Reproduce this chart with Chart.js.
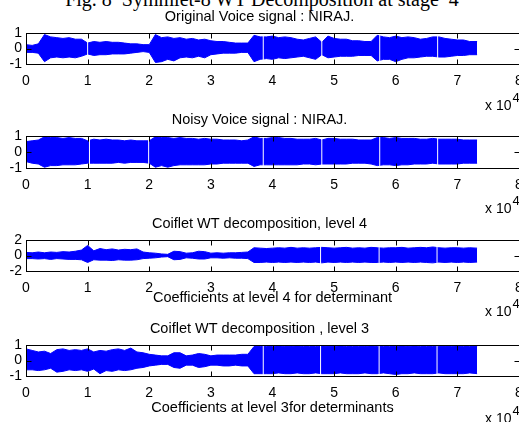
<!DOCTYPE html>
<html>
<head>
<meta charset="utf-8">
<title>Symmlet-8 WT Decomposition at stage 4</title>
<script src="https://cdn.jsdelivr.net/npm/chart.js@4.4.1/dist/chart.umd.min.js"></script>
<style>
  html, body { margin: 0; padding: 0; overflow: hidden; background: #fff; }
  body { position: relative; width: 519px; height: 422px; }
  canvas { position: absolute; left: 0; }
  .fig-title {
    position: absolute; left: 0; width: 524px; top: -11px; text-align: center;
    font: 20px/20px "Liberation Serif", "Times New Roman", serif; white-space: nowrap;
  }
  .exp {
    position: absolute; left: 485px; white-space: nowrap; color: #000;
    font: 14px/15px "Liberation Sans", Arial, sans-serif;
  }
  .exp span { position: relative; top: -8px; font-size: 13px; margin-left: 1px; }
</style>
</head>
<body>
<div class="fig-title">Fig. 8&nbsp; Symmlet-8 WT Decomposition at stage&nbsp; 4</div>

<canvas id="plotOrig" width="545" height="88" style="top:0px"></canvas>
<canvas id="plotNoisy" width="545" height="89" style="top:103px"></canvas>
<canvas id="plotL4" width="545" height="104" style="top:207px"></canvas>
<canvas id="plotL3" width="545" height="106" style="top:312px"></canvas>

<div class="exp" style="top:98px">x 10<span>4</span></div>
<div class="exp" style="top:201px">x 10<span>4</span></div>
<div class="exp" style="top:304px">x 10<span>4</span></div>
<div class="exp" style="top:411px">x 10<span>4</span></div>

<script>
// sample index in units of 10^4 (envelope read every 0.1, last point where the signal ends)
const TIME = [
  0, 0.1, 0.2, 0.3, 0.4, 0.5, 0.6, 0.7, 0.8, 0.9,
  1.0, 1.1, 1.2, 1.3, 1.4, 1.5, 1.6, 1.7, 1.8, 1.9,
  2.0, 2.1, 2.2, 2.3, 2.4, 2.5, 2.6, 2.7, 2.8, 2.9,
  3.0, 3.1, 3.2, 3.3, 3.4, 3.5, 3.6, 3.7, 3.8, 3.9,
  4.0, 4.1, 4.2, 4.3, 4.4, 4.5, 4.6, 4.7, 4.8, 4.9,
  5.0, 5.1, 5.2, 5.3, 5.4, 5.5, 5.6, 5.7, 5.8, 5.9,
  6.0, 6.1, 6.2, 6.3, 6.4, 6.5, 6.6, 6.7, 6.8, 6.9,
  7.0, 7.1, 7.2, 7.32
];

// Original voice signal: upper / lower envelope
const ORIG_HI = [
  0.25, 0.2, 0.3, 0.9, 0.75, 0.7, 0.65, 0.7, 0.6, 0.6,
  0.35, 0.45, 0.4, 0.45, 0.4, 0.4, 0.35, 0.3, 0.3, 0.25,
  0.25, 0.9, 0.7, 0.75, 0.65, 0.7, 0.6, 0.65, 0.55, 0.6,
  0.5, 0.45, 0.45, 0.4, 0.35, 0.35, 0.35, 0.85, 0.75, 0.75,
  0.8, 0.7, 0.75, 0.7, 0.6, 0.55, 0.65, 0.75, 0.4, 0.8,
  0.65, 0.6, 0.6, 0.5, 0.5, 0.45, 0.45, 0.85, 0.75, 0.7,
  0.8, 0.7, 0.75, 0.7, 0.6, 0.65, 0.75, 0.75, 0.65, 0.6,
  0.55, 0.55, 0.45, 0.45
];
const ORIG_LO = [
  -0.25, -0.25, -0.3, -0.85, -0.6, -0.55, -0.6, -0.55, -0.6, -0.5,
  -0.35, -0.45, -0.4, -0.4, -0.35, -0.35, -0.35, -0.3, -0.25, -0.2,
  -0.25, -0.9, -0.85, -0.7, -0.8, -0.6, -0.55, -0.6, -0.5, -0.6,
  -0.4, -0.35, -0.3, -0.3, -0.3, -0.25, -0.25, -0.85, -0.7, -0.65,
  -0.7, -0.6, -0.65, -0.6, -0.55, -0.5, -0.6, -0.7, -0.4, -0.6,
  -0.55, -0.5, -0.5, -0.5, -0.45, -0.45, -0.45, -0.8, -0.7, -0.7,
  -0.85, -0.7, -0.6, -0.6, -0.55, -0.5, -0.5, -0.55, -0.55, -0.5,
  -0.45, -0.45, -0.4, -0.4
];
const ORIG_GAPS = [1.0, 3.85, 4.8, 5.74, 6.68];

// Noisy voice signal
const NOISY_HI = [
  0.65, 0.7, 0.75, 0.95, 0.9, 0.9, 0.85, 0.9, 0.85, 0.85,
  0.7, 0.8, 0.75, 0.8, 0.75, 0.75, 0.7, 0.75, 0.7, 0.7,
  0.7, 0.95, 0.9, 0.9, 0.85, 0.9, 0.85, 0.85, 0.8, 0.85,
  0.8, 0.8, 0.75, 0.75, 0.75, 0.7, 0.75, 0.95, 0.85, 0.85,
  0.9, 0.9, 0.85, 0.85, 0.8, 0.8, 0.8, 0.85, 0.75, 0.85,
  0.85, 0.8, 0.8, 0.8, 0.75, 0.75, 0.75, 0.9, 0.9, 0.85,
  0.9, 0.85, 0.85, 0.85, 0.8, 0.8, 0.85, 0.8, 0.8, 0.8,
  0.8, 0.75, 0.75, 0.75
];
const NOISY_LO = [
  -0.6, -0.7, -0.75, -0.95, -0.85, -0.85, -0.8, -0.8, -0.8, -0.75,
  -0.7, -0.7, -0.7, -0.7, -0.7, -0.65, -0.7, -0.65, -0.65, -0.65,
  -0.7, -0.95, -0.85, -0.95, -0.85, -0.8, -0.8, -0.8, -0.8, -0.8,
  -0.75, -0.75, -0.7, -0.7, -0.7, -0.7, -0.7, -0.9, -0.8, -0.8,
  -0.8, -0.8, -0.8, -0.8, -0.8, -0.75, -0.75, -0.8, -0.75, -0.75,
  -0.75, -0.75, -0.75, -0.7, -0.7, -0.7, -0.75, -0.85, -0.8, -0.8,
  -0.85, -0.8, -0.8, -0.75, -0.75, -0.75, -0.7, -0.75, -0.75, -0.75,
  -0.75, -0.7, -0.7, -0.7
];
const NOISY_GAPS = [1.03, 1.99, 3.85, 4.8, 5.74, 6.68];

// Coiflet WT decomposition, level 4
const L4_HI = [
  0.4, 0.35, 0.45, 0.35, 0.45, 0.4, 0.5, 0.45, 0.55, 0.7,
  1.3, 0.6, 0.9, 0.75, 0.85, 0.7, 0.8, 0.75, 0.85, 0.45,
  0.35, 0.3, 0.2, 0.15, 0.55, 0.5, 0.3, 0.35, 0.55, 0.5,
  0.3, 0.35, 0.3, 0.35, 0.35, 0.4, 0.45, 1.0, 0.95, 0.9,
  0.95, 1.0, 0.95, 1.05, 0.95, 1.0, 0.95, 1.0, 1.05, 1.0,
  0.95, 1.0, 1.05, 0.95, 1.0, 0.95, 1.05, 1.0, 0.95, 1.0,
  1.0, 1.05, 0.95, 1.0, 1.05, 1.0, 1.1, 1.0, 0.95, 1.0,
  1.0, 0.95, 1.0, 0.95
];
const L4_LO = [
  -0.4, -0.4, -0.45, -0.4, -0.5, -0.4, -0.45, -0.5, -0.5, -0.55,
  -0.9, -0.55, -0.6, -0.6, -0.65, -0.55, -0.6, -0.6, -0.55, -0.4,
  -0.35, -0.3, -0.2, -0.15, -0.55, -0.5, -0.3, -0.35, -0.45, -0.45,
  -0.3, -0.3, -0.35, -0.3, -0.35, -0.35, -0.4, -0.9, -0.9, -0.85,
  -0.9, -0.85, -0.9, -0.85, -0.9, -0.85, -0.9, -0.85, -0.95, -0.85,
  -0.9, -0.85, -0.9, -0.85, -0.9, -0.85, -0.9, -0.9, -0.85, -0.9,
  -0.85, -0.9, -0.85, -0.9, -0.85, -0.9, -0.95, -0.85, -0.9, -0.85,
  -0.9, -0.85, -0.9, -0.85
];
const L4_GAPS = [4.78, 5.73, 6.67];

// Coiflet WT decomposition, level 3
const L3_HI = [
  0.75, 0.65, 0.55, 0.6, 0.45, 0.7, 0.75, 0.65, 0.7, 0.65,
  0.75, 0.55, 0.65, 0.6, 0.7, 0.75, 0.65, 0.8, 0.55, 0.5,
  0.4, 0.35, 0.3, 0.3, 0.5, 0.5, 0.3, 0.35, 0.45, 0.4,
  0.3, 0.35, 0.35, 0.35, 0.35, 0.4, 0.4, 0.9, 0.9, 0.9,
  0.9, 0.95, 0.9, 0.9, 0.95, 0.9, 0.9, 0.9, 0.95, 0.9,
  0.9, 0.95, 0.9, 0.9, 0.9, 0.9, 0.95, 0.9, 0.9, 0.9,
  0.9, 0.95, 0.9, 0.95, 0.9, 0.9, 0.9, 0.9, 0.9, 0.9,
  0.95, 0.9, 0.9, 0.9
];
const L3_LO = [
  -0.6, -0.6, -0.65, -0.6, -0.5, -0.75, -0.7, -0.6, -0.65, -0.6,
  -0.7, -0.55, -0.85, -0.65, -0.7, -0.6, -0.65, -0.6, -0.5, -0.45,
  -0.35, -0.3, -0.25, -0.25, -0.45, -0.5, -0.3, -0.3, -0.45, -0.4,
  -0.3, -0.3, -0.35, -0.35, -0.3, -0.35, -0.35, -0.85, -0.85, -0.85,
  -0.85, -0.8, -0.85, -0.85, -0.8, -0.85, -0.85, -0.8, -0.85, -0.85,
  -0.85, -0.8, -0.85, -0.85, -0.85, -0.8, -0.85, -0.85, -0.8, -0.85,
  -0.9, -0.85, -0.85, -0.8, -0.85, -0.85, -0.85, -0.8, -0.85, -0.85,
  -0.85, -0.85, -0.8, -0.85
];
const L3_GAPS = [3.85, 4.78, 5.73, 6.67];

const BLUE = '#0000ff';
const FONT = '"Liberation Sans", Arial, sans-serif';

Chart.defaults.color = '#000';
Chart.defaults.font.family = FONT;

const toPoints = (values) => TIME.map((t, i) => ({ x: t, y: values[i] }));

// silent spots in the signal show as thin white vertical lines
const gapPoints = (gaps, lim) =>
  gaps.flatMap((g) => [{ x: g, y: -lim }, { x: g, y: lim }, { x: g, y: null }]);

// matlab style box with inward tick marks on all four sides
const matlabBox = {
  id: 'matlabBox',
  afterDraw(chart) {
    const { ctx, chartArea: a, scales: { x, y } } = chart;
    const L = Math.round(a.left) + 0.5;
    const R = Math.round(a.right) + 0.5;
    const T = Math.round(a.top) + 0.5;
    const B = Math.round(a.bottom) + 0.5;
    ctx.save();
    ctx.strokeStyle = '#000';
    ctx.lineWidth = 1;
    ctx.strokeRect(L, T, R - L, B - T);
    ctx.beginPath();
    x.ticks.forEach((t) => {
      const px = Math.round(x.getPixelForValue(t.value)) + 0.5;
      ctx.moveTo(px, T); ctx.lineTo(px, T + 5);
      ctx.moveTo(px, B); ctx.lineTo(px, B - 5);
    });
    y.ticks.forEach((t) => {
      const py = Math.round(y.getPixelForValue(t.value)) + 0.5;
      ctx.moveTo(L, py); ctx.lineTo(L + 5, py);
      ctx.moveTo(R, py); ctx.lineTo(R - 5, py);
    });
    ctx.stroke();
    ctx.restore();
  }
};

const makePlot = (id, cfg) => {
  return new Chart(document.getElementById(id), {
    type: 'line',
    data: {
      datasets: [
        {
          data: toPoints(cfg.hi), fill: '+1',
          borderColor: BLUE, backgroundColor: BLUE, borderWidth: 1, pointRadius: 0, tension: 0
        },
        {
          data: toPoints(cfg.lo), fill: false,
          borderColor: BLUE, backgroundColor: BLUE, borderWidth: 1, pointRadius: 0, tension: 0
        },
        {
          data: gapPoints(cfg.gaps, cfg.yMax * 0.95), fill: false, order: -1, spanGaps: false,
          borderColor: '#ffffff', borderWidth: 1, pointRadius: 0
        }
      ]
    },
    options: {
      responsive: false,
      animation: false,
      events: [],
      layout: { padding: { left: 0, right: 26, top: 0, bottom: 0 } },
      plugins: {
        legend: { display: false },
        tooltip: { enabled: false },
        title: {
          display: true,
          text: cfg.title,
          color: '#000',
          font: { family: FONT, size: 14.5, weight: 'normal' },
          padding: { top: 7.8, bottom: 7.8 }
        }
      },
      scales: {
        x: {
          type: 'linear',
          min: 0,
          max: 8,
          grid: { display: false, drawTicks: false },
          border: { display: false },
          ticks: { stepSize: 1, padding: 8.5, autoSkip: false, maxRotation: 0, font: { size: 14 } },
          title: {
            display: !!cfg.xlabel,
            text: cfg.xlabel || '',
            font: { family: FONT, size: 14.5 },
            padding: { top: 0, bottom: cfg.xlabelPad || 0 }
          },
          afterFit: (scale) => { scale.height = cfg.xh; }
        },
        y: {
          min: -cfg.yMax,
          max: cfg.yMax,
          grid: { display: false, drawTicks: false },
          border: { display: false },
          ticks: { stepSize: cfg.yMax, padding: 4, autoSkip: false, font: { size: 14 } },
          afterFit: (scale) => { scale.width = 26; }
        }
      }
    },
    plugins: [matlabBox]
  });
};

makePlot('plotOrig', {
  title: 'Original Voice signal : NIRAJ.',
  hi: ORIG_HI, lo: ORIG_LO, gaps: ORIG_GAPS, yMax: 1, xh: 24
});
makePlot('plotNoisy', {
  title: 'Noisy Voice signal : NIRAJ.',
  hi: NOISY_HI, lo: NOISY_LO, gaps: NOISY_GAPS, yMax: 1, xh: 24
});
makePlot('plotL4', {
  title: 'Coiflet WT decomposition, level 4',
  xlabel: 'Coefficients at level 4 for determinant', xlabelPad: 4.3,
  hi: L4_HI, lo: L4_LO, gaps: L4_GAPS, yMax: 2, xh: 40
});
makePlot('plotL3', {
  title: 'Coiflet WT decomposition , level 3',
  xlabel: 'Coefficients at level 3for determinants', xlabelPad: 1.3,
  hi: L3_HI, lo: L3_LO, gaps: L3_GAPS, yMax: 1, xh: 42
});
</script>
</body>
</html>
